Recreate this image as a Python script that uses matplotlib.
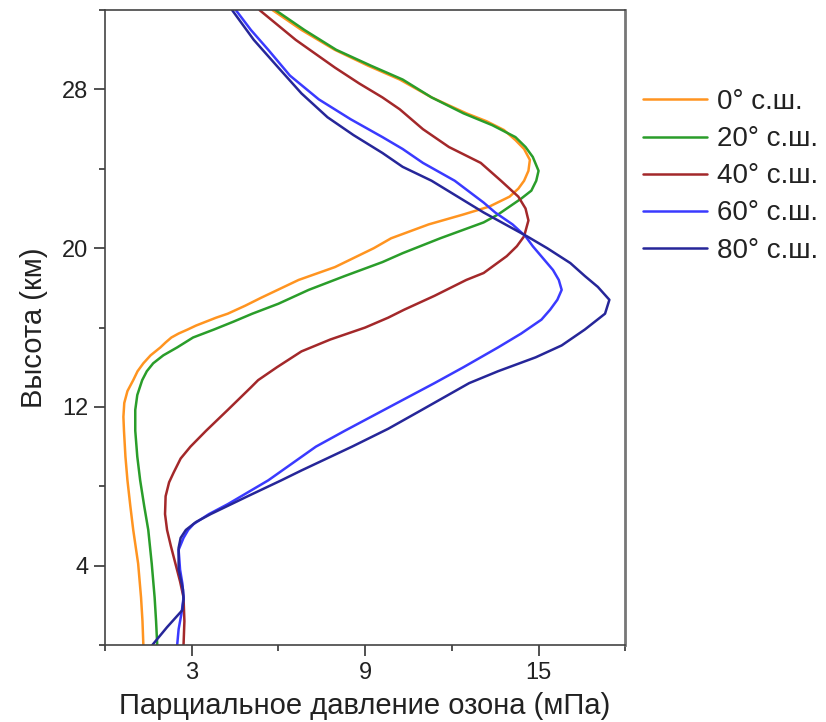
import matplotlib
matplotlib.use("Agg")
import matplotlib.pyplot as plt
from matplotlib.ticker import MultipleLocator

plt.rcParams['font.family'] = ['Liberation Sans', 'DejaVu Sans']

labels = ["0° с.ш.", "20° с.ш.", "40° с.ш.", "60° с.ш.", "80° с.ш."]
colors = ["#ff9420", "#2a9d2a", "#a3282a", "#3a3aff", "#262699"]

# altitude (km) and partial pressure (mPa) for each latitude
h_0 = [0, 1.2, 2.4, 4.1, 5.8, 7.0, 8.3, 9.5, 10.8, 11.5, 12.2, 12.8, 13.35, 13.8, 14.2, 14.6, 15.0, 15.25, 15.5,
       15.7, 15.9, 16.1, 16.3, 16.5, 16.7, 17.1, 17.5, 18.4, 19.05, 20.0, 20.5, 21.2, 21.7, 22.1, 22.6, 23.0, 23.4,
       23.9, 24.45, 25.0, 25.45, 25.96, 26.4, 26.8, 27.6, 28.5, 29.2, 30.0, 31.0, 32.0]
p_0 = [1.33, 1.30, 1.25, 1.15, 0.98, 0.88, 0.78, 0.71, 0.66, 0.64, 0.67, 0.78, 0.98, 1.13, 1.33, 1.58, 1.92, 2.1, 2.3,
       2.55, 2.86, 3.15, 3.5, 3.85, 4.25, 4.85, 5.4, 6.7, 7.96, 9.3, 9.9, 11.2, 12.4, 13.3, 14.0, 14.3, 14.5,
       14.65, 14.7, 14.5, 14.2, 13.8, 13.2, 12.5, 11.3, 10.2, 9.1, 7.95, 6.8, 5.8]

h_20 = [0, 1.2, 2.4, 4.1, 5.8, 7.0, 8.3, 9.5, 10.8, 11.85, 12.6, 13.35, 13.8, 14.2, 14.6, 15.0, 15.5, 15.9, 16.3,
        16.7, 17.2, 17.9, 18.6, 19.3, 19.75, 20.5, 21.3, 21.7, 22.1, 22.5, 22.9, 23.4, 23.9, 24.6, 25.1, 25.6, 26.2,
        26.8, 27.6, 28.5, 29.2, 30.0, 31.0, 32.0]
p_20 = [1.81, 1.77, 1.72, 1.62, 1.5, 1.36, 1.22, 1.12, 1.05, 1.05, 1.12, 1.29, 1.45, 1.67, 2.02, 2.5, 3.05, 3.77, 4.45,
        5.1, 6.0, 7.05, 8.3, 9.6, 10.3, 11.6, 13.1, 13.6, 14.0, 14.4, 14.75, 14.92, 15.0, 14.8, 14.55, 14.2, 13.4,
        12.4, 11.3, 10.3, 9.2, 8.0, 6.9, 5.9]

h_40 = [0, 1.2, 2.4, 3.2, 4.1, 5.0, 5.8, 6.6, 7.5, 8.2, 8.7, 9.4, 10.0, 10.8, 11.85, 13.0, 13.35, 14.0, 14.8,
        15.4, 16.0, 16.5, 16.9, 17.6, 18.4, 18.75, 19.6, 20.1, 20.6, 21.4, 22.0, 22.6, 23.4, 24.3, 25.1, 26.0,
        27.0, 27.6, 28.3, 29.1, 30.5, 32.0]
p_40 = [2.72, 2.75, 2.72, 2.6, 2.44, 2.28, 2.15, 2.08, 2.1, 2.22, 2.38, 2.62, 2.96, 3.5, 4.25, 5.06, 5.3, 5.95, 6.8,
        7.8, 9.0, 9.8, 10.35, 11.4, 12.5, 13.1, 13.9, 14.25, 14.5, 14.65, 14.55, 14.3, 13.7, 13.0, 11.9, 11.0,
        10.2, 9.6, 8.8, 7.96, 6.6, 5.35]

h_60 = [0, 0.8, 1.6, 2.4, 3.1, 3.8, 4.8, 5.4, 5.8, 6.1, 6.6, 7.1, 8.3, 10.0, 10.8, 12.35, 13.2, 14.0, 15.0,
        15.7, 16.4, 16.9, 17.4, 17.9, 18.4, 18.9, 19.5, 20.1, 20.6, 21.2, 21.8, 22.3, 23.4, 24.3, 25.0, 25.6,
        26.5, 27.5, 28.7, 30.0, 31.0, 32.0]
p_60 = [2.5, 2.55, 2.65, 2.72, 2.68, 2.6, 2.55, 2.72, 2.88, 3.07, 3.6, 4.25, 5.65, 7.3, 8.3, 10.3, 11.4, 12.4, 13.6,
        14.4, 15.1, 15.4, 15.65, 15.8, 15.7, 15.5, 15.15, 14.8, 14.55, 14.1, 13.5, 13.1, 12.1, 11.0, 10.3, 9.6,
        8.5, 7.4, 6.4, 5.65, 5.05, 4.53]

h_80 = [0, 0.9, 1.76, 2.3, 2.8, 3.8, 4.9, 5.4, 5.8, 6.2, 6.6, 7.5, 8.3, 8.8, 10.0, 10.9, 11.8, 13.2, 13.8, 14.5,
        15.1, 15.9, 16.7, 17.4, 18.05, 18.6, 19.25, 20.0, 20.6, 21.2, 21.8, 22.6, 23.4, 24.1, 24.8, 25.7, 26.6,
        27.8, 29.1, 30.5, 32.0]
p_80 = [1.64, 2.15, 2.68, 2.72, 2.7, 2.55, 2.55, 2.62, 2.8, 3.15, 3.66, 4.94, 6.1, 6.8, 8.55, 9.8, 10.9, 12.6, 13.6, 14.9,
        15.8, 16.6, 17.3, 17.45, 17.05, 16.6, 16.1, 15.3, 14.6, 13.85, 13.1, 12.2, 11.3, 10.3, 9.6, 8.6, 7.7,
        6.8, 6.0, 5.15, 4.4]

heights = [h_0, h_20, h_40, h_60, h_80]
pressures = [p_0, p_20, p_40, p_60, p_80]

x_major = [3, 9, 15]
y_major = [4, 12, 20, 28]

fig = plt.figure(figsize=(8.26, 7.22), dpi=100)
ax = fig.add_axes([0.127, 0.1066, 0.63, 0.8794])

for h, p, c, lab in zip(heights, pressures, colors, labels):
    ax.plot(p, h, color=c, lw=1.8, label=lab, solid_joinstyle='round', solid_capstyle='round')

ax.set_xlim(0, 18)
ax.set_ylim(0, 32)
ax.set_xticks(x_major)
ax.set_yticks(y_major)
ax.xaxis.set_minor_locator(MultipleLocator(6))
ax.yaxis.set_minor_locator(MultipleLocator(8))
ax.tick_params(which='major', direction='out', length=8, width=1.2, labelsize=17, colors='#333333',
               labelcolor='#222222', pad=4)
ax.tick_params(which='minor', direction='out', length=4, width=1.2, colors='#333333')
for s in ax.spines.values():
    s.set_color('#444444')
    s.set_linewidth(1.2)
ax.spines['right'].set_color('#777777')
ax.spines['right'].set_linewidth(2.0)

ax.set_xlabel("Парциальное давление озона (мПа)", fontsize=21, color='#222222', labelpad=6)
ax.set_ylabel("Высота (км)", fontsize=21, color='#222222', labelpad=10)

leg = ax.legend(loc='upper left', bbox_to_anchor=(1.013, 0.893), frameon=False,
                fontsize=20, handlelength=2.3, handletextpad=0.36, labelspacing=0.4,
                borderaxespad=0)
for t in leg.get_texts():
    t.set_color('#222222')

fig.savefig("out.png", dpi=100, facecolor='white')
